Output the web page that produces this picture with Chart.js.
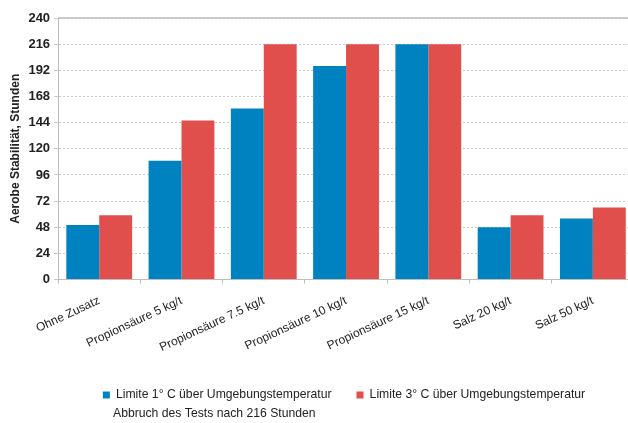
<!DOCTYPE html>
<html>
<head>
<meta charset="utf-8">
<script src="https://cdn.jsdelivr.net/npm/chart.js@4/dist/chart.umd.min.js"></script>
<style>
  body { margin: 0; overflow: hidden; background: #fff; }
  #wrap { width: 640px; height: 423px; }
</style>
</head>
<body>
<div id="wrap"><canvas id="chart" width="640" height="423"></canvas></div>
<script>
// Daten
const kategorien = ["Ohne Zusatz", "Propionsäure 5 kg/t", "Propionsäure 7.5 kg/t", "Propionsäure 10 kg/t", "Propionsäure 15 kg/t", "Salz 20 kg/t", "Salz 50 kg/t"];
const limite1 = [50, 109, 157, 196, 216, 48, 56];
const limite3 = [59, 146, 216, 216, 216, 59, 66];
const yTicks = [0, 24, 48, 72, 96, 120, 144, 168, 192, 216, 240];
const notiz = "Abbruch des Tests nach 216 Stunden";

const blau = "#0082c1";
const rot = "#e14f4c";

// obere Linie, Legende verschieben, Hinweis unter der Legende
const extras = {
  id: "extras",
  afterLayout(chart) {
    const lg = chart.legend;
    const d = 344 - (lg.left + lg.right) / 2;
    lg.left += d;
    lg.right += d;
  },
  afterDraw(chart) {
    const ctx = chart.ctx;
    const a = chart.chartArea;
    ctx.save();
    ctx.strokeStyle = "#bdbdbd";
    ctx.lineWidth = 1.5;
    ctx.beginPath();
    ctx.moveTo(a.left, a.top);
    ctx.lineTo(a.right, a.top);
    ctx.stroke();
    ctx.fillStyle = "#222";
    ctx.font = "12.2px 'Liberation Sans', Arial, sans-serif";
    ctx.textBaseline = "middle";
    ctx.fillText(notiz, 113, 414);
    ctx.restore();
  }
};

Chart.defaults.font.family = "'Liberation Sans', Arial, sans-serif";
Chart.defaults.color = "#222";

new Chart(document.getElementById("chart"), {
  type: "bar",
  data: {
    labels: kategorien,
    datasets: [
      { label: "Limite 1° C über Umgebungstemperatur", data: limite1, backgroundColor: blau },
      { label: "Limite 3° C über Umgebungstemperatur", data: limite3, backgroundColor: rot }
    ]
  },
  options: {
    responsive: false,
    animation: false,
    layout: { padding: { top: 18, right: 6, bottom: 12, left: 6 } },
    datasets: { bar: { categoryPercentage: 0.8, barPercentage: 1.0 } },
    plugins: {
      tooltip: { enabled: false },
      legend: {
        position: "bottom",
        labels: { boxWidth: 7, boxHeight: 7, font: { size: 12.2 }, padding: 25 }
      }
    },
    scales: {
      x: {
        grid: { drawOnChartArea: false, drawTicks: true, tickLength: 4, color: "#bdbdbd" },
        border: { color: "#bdbdbd" },
        ticks: { minRotation: 25, maxRotation: 25, font: { size: 12 }, padding: 10 },
        afterFit(scale) { scale.height -= 1; }
      },
      y: {
        min: 0,
        max: 240,
        afterBuildTicks(axis) { axis.ticks = yTicks.map(v => ({ value: v })); },
        grid: { color: "#c8c8c8", drawTicks: true, tickLength: 4 },
        border: { color: "#bdbdbd", dash: [2, 2] },
        ticks: { font: { size: 13, weight: "bold" }, padding: 4 },
        title: { display: true, text: "Aerobe Stabilität, Stunden", font: { size: 12, weight: "bold" }, padding: 2 }
      }
    }
  },
  plugins: [extras]
});
</script>
</body>
</html>
